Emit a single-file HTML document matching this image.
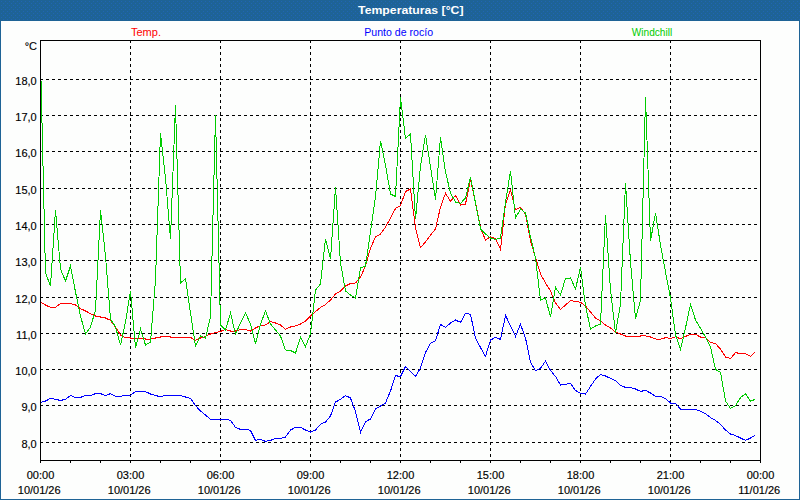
<!DOCTYPE html>
<html lang="es"><head><meta charset="utf-8"><title>Temperaturas [°C]</title>
<style>
html,body{margin:0;padding:0;}
body{width:800px;height:500px;overflow:hidden;background:#fdfefd;position:relative;font-family:"Liberation Sans",sans-serif;}
#frame{position:absolute;left:0;top:0;width:798px;height:478px;border:1px solid #1e6396;border-top:21px solid #1e6396;}
</style></head><body>
<div id="frame"></div>
<svg width="800" height="500" viewBox="0 0 800 500" style="position:absolute;left:0;top:0">
<defs><pattern id="dth" x="0" y="0" width="8" height="4" patternUnits="userSpaceOnUse"><rect x="1" y="1" width="1" height="1" fill="#2065b4"/><rect x="5" y="1" width="1" height="1" fill="#2065b4"/><rect x="3" y="3" width="1" height="1" fill="#2065b4"/><rect x="7" y="3" width="1" height="1" fill="#2065b4"/></pattern></defs>
<rect x="0" y="0" width="800" height="21" fill="url(#dth)" shape-rendering="crispEdges"/>
<g stroke="#000" stroke-width="1" stroke-dasharray="3 3" shape-rendering="crispEdges" fill="none">
<line x1="40" y1="79.5" x2="760" y2="79.5"/>
<line x1="40" y1="115.5" x2="760" y2="115.5"/>
<line x1="40" y1="151.5" x2="760" y2="151.5"/>
<line x1="40" y1="188.5" x2="760" y2="188.5"/>
<line x1="40" y1="224.5" x2="760" y2="224.5"/>
<line x1="40" y1="260.5" x2="760" y2="260.5"/>
<line x1="40" y1="297.5" x2="760" y2="297.5"/>
<line x1="40" y1="333.5" x2="760" y2="333.5"/>
<line x1="40" y1="369.5" x2="760" y2="369.5"/>
<line x1="40" y1="405.5" x2="760" y2="405.5"/>
<line x1="40" y1="442.5" x2="760" y2="442.5"/>
<line x1="130.5" y1="40" x2="130.5" y2="460"/>
<line x1="220.5" y1="40" x2="220.5" y2="460"/>
<line x1="310.5" y1="40" x2="310.5" y2="460"/>
<line x1="400.5" y1="40" x2="400.5" y2="460"/>
<line x1="490.5" y1="40" x2="490.5" y2="460"/>
<line x1="580.5" y1="40" x2="580.5" y2="460"/>
<line x1="670.5" y1="40" x2="670.5" y2="460"/>
</g>
<g fill="none" stroke-width="1" shape-rendering="crispEdges" stroke-linejoin="miter">
<polyline stroke="#0000ff" points="41.05,402.4 45.5,401 50.5,398.4 55.5,399.4 60.5,400.4 65.5,399.4 70.5,395.6 75.5,397.4 80.5,397.4 85.5,395.6 90.5,395.6 95.5,393.6 100.5,393.6 105.5,395.6 110.5,393.6 115.5,396.4 120.5,396.4 125.5,395.4 130.5,395.4 135.5,391.6 140.5,391.6 145.5,391.6 150.5,394 155.5,395.6 160.5,396.6 165.5,395.4 170.5,395.4 175.5,395.4 180.5,395.4 185.5,397 190.5,398.4 195.5,405.6 200.5,411 205.5,415 210.5,419.4 215.5,419.4 220.5,419.4 225.5,419.4 230.5,420.4 235.5,427.4 240.5,429.4 245.5,429.4 250.5,430.4 255.5,440.4 260.5,439.4 265.5,441.4 270.5,440.4 275.5,438.4 280.5,438.4 285.5,437 290.5,430 295.5,427.4 300.5,427.4 305.5,430 310.5,432 315.5,430 320.5,424.4 325.5,422 330.5,416 335.5,402 340.5,399.4 345.5,395.6 350.5,398 355.5,411.5 360.5,432.4 365.5,421.6 370.5,419 375.5,409 380.5,406 385.5,403 390.5,391 395.5,375.6 400.5,376.6 405.5,366.4 410.5,371.6 415.5,376.4 420.5,368 425.5,352.5 430.5,343.4 435.5,340.8 440.5,324.4 445.5,327.4 450.5,323 455.5,320 460.5,322.4 465.5,313.4 470.5,314.4 475.5,338 480.5,347.5 485.5,356.4 490.5,340 495.5,337.4 500.5,339.4 505.5,315.4 510.5,326 515.5,336.4 520.5,324.4 525.5,338 530.5,362.4 535.5,370.6 540.5,368.2 545.5,361.2 550.5,370.5 555.5,376.5 560.5,385.2 565.5,384.2 570.5,383.4 575.5,390.5 580.5,393.4 585.5,394 590.5,386.4 595.5,379 600.5,374.4 605.5,376 610.5,378.4 615.5,380.6 620.5,385.4 625.5,387.4 630.5,387.4 635.5,389 640.5,391.4 645.5,390.4 650.5,393 655.5,396.4 660.5,396.4 665.5,398.5 670.5,403 675.5,403.4 680.5,409.2 685.5,409.2 690.5,409.2 695.5,409.2 700.5,411.4 705.5,413.6 710.5,417.6 715.5,420.4 720.5,424.4 725.5,430 730.5,434 735.5,435.6 740.5,438 745.5,440.4 750.5,438 754.9,435.4"/>
<polyline stroke="#ff0000" points="41.05,302.4 45.5,305 50.5,307.4 55.5,307.4 60.5,303.6 65.5,303.4 70.5,303.4 75.5,305 80.5,308.6 85.5,311 90.5,313.6 95.5,316 100.5,317 105.5,318 110.5,320.4 115.5,327 120.5,335 125.5,337.6 130.5,338 135.5,338 140.5,338 145.5,339 150.5,339 155.5,338 160.5,337 165.5,336.4 170.5,337 175.5,337 180.5,337.4 185.5,337.4 190.5,337.4 195.5,340.4 200.5,338 205.5,336.4 210.5,334 215.5,332.6 220.5,331.4 225.5,329.6 230.5,331 235.5,331 240.5,329.4 245.5,329.4 250.5,331 255.5,328 260.5,325.6 265.5,325 270.5,321.6 275.5,323 280.5,325 285.5,329.4 290.5,327 295.5,326 300.5,324 305.5,321 310.5,316 315.5,311.5 320.5,307.5 325.5,304.5 330.5,300 335.5,294 340.5,291 345.5,286 350.5,283.5 355.5,283 360.5,277 365.5,266 370.5,248 375.5,237 380.5,234 385.5,227 390.5,218 395.5,208.5 400.5,205.5 405.5,191.5 410.5,189 415.5,228 420.5,247.5 425.5,242 430.5,235 435.5,229 440.5,207 445.5,193.3 450.5,201.2 455.5,195.5 460.5,205 465.5,204 470.5,180 475.5,202 480.5,228 485.5,240 490.5,236.6 495.5,239 500.5,249.4 505.5,204 510.5,190 515.5,209.6 520.5,207.4 525.5,214 530.5,241 535.5,257.5 540.5,274 545.5,283 550.5,291 555.5,303 560.5,309.4 565.5,305 570.5,300.6 575.5,301.4 580.5,302.4 585.5,306 590.5,312 595.5,318 600.5,321 605.5,325 610.5,328 615.5,332 620.5,334 625.5,336 630.5,336 635.5,336 640.5,336 645.5,335.8 650.5,337 655.5,339 660.5,339.2 665.5,337.7 670.5,338.4 675.5,336.8 680.5,338.8 685.5,336.4 690.5,334.4 695.5,334.4 700.5,337 705.5,337.6 710.5,342.4 715.5,343.6 720.5,349 725.5,357 730.5,358.6 735.5,352.6 740.5,353.6 745.5,353.6 750.5,356.4 754.9,352"/>
<polyline stroke="#00cc00" points="41.05,81 45.5,273 50.5,286 55.5,210 60.5,269 65.5,281 70.5,266 75.5,292 80.5,316 85.5,334 90.5,327 95.5,310 100.5,210 105.5,256 110.5,319 115.5,327 120.5,345 125.5,322 130.5,291 135.5,348 140.5,329 145.5,345 150.5,342 155.5,280 160.5,133 165.5,178 170.5,239 175.5,105 180.5,283 185.5,278.5 190.5,313 195.5,346 200.5,336 205.5,338 210.5,317 215.5,115.5 220.5,325 225.5,330 230.5,313 235.5,334 240.5,323 245.5,313 250.5,324 255.5,343.5 260.5,324 265.5,311 270.5,324 275.5,330 280.5,336 285.5,350 290.5,350.5 295.5,353 300.5,337.5 305.5,346.5 310.5,334 315.5,290 320.5,284 325.5,239 330.5,259 335.5,187.5 340.5,263 345.5,291 350.5,295 355.5,298 360.5,268 365.5,266 370.5,232 375.5,197 380.5,141 385.5,165 390.5,194 395.5,196.5 400.5,97.5 405.5,138.5 410.5,134 415.5,219 420.5,166 425.5,135 430.5,167 435.5,199.5 440.5,137 445.5,172 450.5,193 455.5,202 460.5,203.4 465.5,198 470.5,177 475.5,203 480.5,229 485.5,234 490.5,238 495.5,239.4 500.5,238 505.5,202.6 510.5,171 515.5,218 520.5,209 525.5,213 530.5,237 535.5,258 540.5,300 545.5,298 550.5,317 555.5,287.4 560.5,295 565.5,278.4 570.5,278 575.5,289 580.5,267.4 585.5,306 590.5,329 595.5,326 600.5,324 605.5,215 610.5,290 615.5,333 620.5,304 625.5,183 630.5,262 635.5,319 640.5,300 645.5,97 650.5,241 655.5,213 660.5,245 665.5,272 670.5,298 675.5,335 680.5,349.4 685.5,328 690.5,304.4 695.5,320 700.5,328.4 705.5,337 710.5,347 715.5,369.4 720.5,372.2 725.5,401 730.5,408.4 735.5,405.6 740.5,397.6 745.5,393.6 750.5,401.4 754.9,399.4"/>
</g>
<g stroke="#000" stroke-width="1" shape-rendering="crispEdges" fill="none">
<rect x="40.5" y="40.5" width="720" height="420"/>
<line x1="40.5" y1="461" x2="40.5" y2="463"/>
<line x1="70.5" y1="461" x2="70.5" y2="463"/>
<line x1="100.5" y1="461" x2="100.5" y2="463"/>
<line x1="130.5" y1="461" x2="130.5" y2="463"/>
<line x1="160.5" y1="461" x2="160.5" y2="463"/>
<line x1="190.5" y1="461" x2="190.5" y2="463"/>
<line x1="220.5" y1="461" x2="220.5" y2="463"/>
<line x1="250.5" y1="461" x2="250.5" y2="463"/>
<line x1="280.5" y1="461" x2="280.5" y2="463"/>
<line x1="310.5" y1="461" x2="310.5" y2="463"/>
<line x1="340.5" y1="461" x2="340.5" y2="463"/>
<line x1="370.5" y1="461" x2="370.5" y2="463"/>
<line x1="400.5" y1="461" x2="400.5" y2="463"/>
<line x1="430.5" y1="461" x2="430.5" y2="463"/>
<line x1="460.5" y1="461" x2="460.5" y2="463"/>
<line x1="490.5" y1="461" x2="490.5" y2="463"/>
<line x1="520.5" y1="461" x2="520.5" y2="463"/>
<line x1="550.5" y1="461" x2="550.5" y2="463"/>
<line x1="580.5" y1="461" x2="580.5" y2="463"/>
<line x1="610.5" y1="461" x2="610.5" y2="463"/>
<line x1="640.5" y1="461" x2="640.5" y2="463"/>
<line x1="670.5" y1="461" x2="670.5" y2="463"/>
<line x1="700.5" y1="461" x2="700.5" y2="463"/>
<line x1="730.5" y1="461" x2="730.5" y2="463"/>
<line x1="760.5" y1="461" x2="760.5" y2="463"/>
</g>
<g font-family="'Liberation Sans', sans-serif" font-size="11px" fill="#000" stroke="#000" stroke-width="0.15">
<text x="37" y="49.5" text-anchor="end">°C</text>
<text x="36.7" y="84.8" text-anchor="end">18,0</text>
<text x="36.7" y="120.8" text-anchor="end">17,0</text>
<text x="36.7" y="156.8" text-anchor="end">16,0</text>
<text x="36.7" y="193.8" text-anchor="end">15,0</text>
<text x="36.7" y="229.8" text-anchor="end">14,0</text>
<text x="36.7" y="265.8" text-anchor="end">13,0</text>
<text x="36.7" y="302.8" text-anchor="end">12,0</text>
<text x="36.7" y="338.8" text-anchor="end">11,0</text>
<text x="36.7" y="374.8" text-anchor="end">10,0</text>
<text x="36.7" y="410.8" text-anchor="end">9,0</text>
<text x="36.7" y="447.8" text-anchor="end">8,0</text>
<text x="40.5" y="479" text-anchor="middle">00:00</text>
<text x="39.2" y="494" text-anchor="middle">10/01/26</text>
<text x="130.5" y="479" text-anchor="middle">03:00</text>
<text x="129.2" y="494" text-anchor="middle">10/01/26</text>
<text x="220.5" y="479" text-anchor="middle">06:00</text>
<text x="219.2" y="494" text-anchor="middle">10/01/26</text>
<text x="310.5" y="479" text-anchor="middle">09:00</text>
<text x="309.2" y="494" text-anchor="middle">10/01/26</text>
<text x="400.5" y="479" text-anchor="middle">12:00</text>
<text x="399.2" y="494" text-anchor="middle">10/01/26</text>
<text x="490.5" y="479" text-anchor="middle">15:00</text>
<text x="489.2" y="494" text-anchor="middle">10/01/26</text>
<text x="580.5" y="479" text-anchor="middle">18:00</text>
<text x="579.2" y="494" text-anchor="middle">10/01/26</text>
<text x="670.5" y="479" text-anchor="middle">21:00</text>
<text x="669.2" y="494" text-anchor="middle">10/01/26</text>
<text x="760.5" y="479" text-anchor="middle">00:00</text>
<text x="759.2" y="494" text-anchor="middle">11/01/26</text>
<text x="131" y="36" fill="#ff0000" stroke="none">Temp.</text>
<text x="364.3" y="36" fill="#0000ff" stroke="none" textLength="68.8" lengthAdjust="spacingAndGlyphs">Punto de rocío</text>
<text x="631.8" y="36" fill="#00cc00" stroke="none" textLength="40.4" lengthAdjust="spacingAndGlyphs">Windchill</text>
</g>
<text x="410.8" y="14" text-anchor="middle" font-family="'Liberation Sans', sans-serif" font-weight="bold" font-size="11px" fill="#fff" textLength="105.4" lengthAdjust="spacingAndGlyphs">Temperaturas [°C]</text>
</svg>
</body></html>
